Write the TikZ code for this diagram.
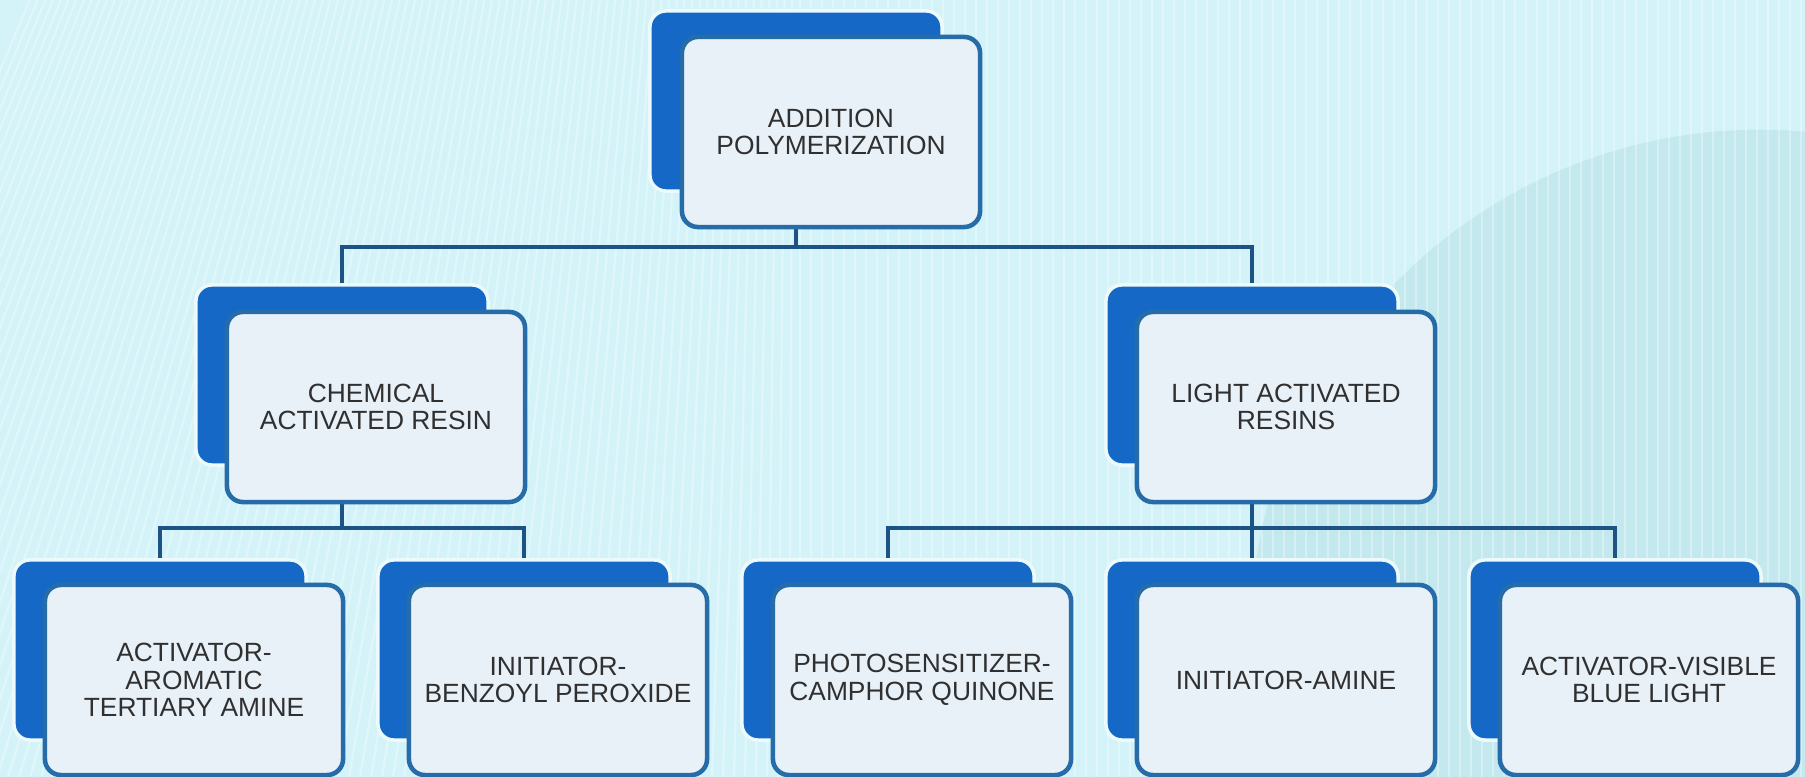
\documentclass[tikz,border=0pt]{standalone}
\usepackage{fontspec}
\setmainfont{Liberation Sans}
\definecolor{bgcyan}{RGB}{212,243,248}
\definecolor{bgdeep}{RGB}{176,221,229}
\definecolor{backblue}{RGB}{22,104,198}
\definecolor{cardfill}{RGB}{232,240,248}
\definecolor{cardline}{RGB}{38,108,168}
\definecolor{linkblue}{RGB}{28,82,132}
\definecolor{inkgray}{RGB}{48,48,48}

\begin{document}
\begin{tikzpicture}[x=0.01cm,y=-0.01cm]
    \tikzstyle{back}=[rectangle, rounded corners=0.16cm, fill=backblue, draw=white!55!bgcyan, line width=1pt, minimum width=2.92cm, minimum height=1.8cm, inner sep=0pt]
    \tikzstyle{card}=[rectangle, rounded corners=0.16cm, fill=cardfill, draw=cardline, line width=1.3pt, minimum width=2.98cm, minimum height=1.9cm, align=center, text=inkgray, font=\fontsize{7.5}{7.8}\selectfont, inner sep=0pt]
    \tikzstyle{link}=[draw=linkblue, line width=1.2pt]

    \useasboundingbox (0,0) rectangle (1805,777);

    % background
    \fill[bgcyan] (0,0) rectangle (1805,777);
    \begin{scope}
      \clip (0,0) rectangle (1805,777);
      \fill[bgdeep, opacity=0.45] (1760,640) circle (5.1cm);
      \foreach \i [evaluate=\i as \s using {max(0,0.3*(800-\i))}] in {-300,-289,...,1805}
        \draw[white, opacity=0.3, line width=0.6pt] (\i+\s,0) -- (\i,777);
    \end{scope}

    % back cards
    \node[back] (addB) at (796,101) {};
    \node[back] (chemB) at (342,375) {};
    \node[back] (lightB) at (1252,375) {};
    \node[back] (actB) at (160,650) {};
    \node[back] (iniB) at (524,650) {};
    \node[back] (phoB) at (888,650) {};
    \node[back] (amiB) at (1252,650) {};
    \node[back] (visB) at (1615,650) {};

    % connectors
    \coordinate (j0) at (796,247);
    \coordinate (j1) at (342,528);
    \coordinate (j2) at (1252,528);

    \draw[link] (addB.south) -- (j0) -| (chemB.north);
    \draw[link] (j0) -| (lightB.north);
    \draw[link] (chemB.south) -- (j1) -| (actB.north);
    \draw[link] (j1) -| (iniB.north);
    \draw[link] (lightB.south) -- (j2) -| (phoB.north);
    \draw[link] (j2) -- (amiB.north);
    \draw[link] (j2) -| (visB.north);

    % front cards
    \node[card] (add) at (831,132) {ADDITION\\POLYMERIZATION};
    \node[card] (chem) at (376,407) {CHEMICAL\\ACTIVATED RESIN};
    \node[card] (light) at (1286,407) {LIGHT ACTIVATED\\RESINS};
    \node[card] (act) at (194,680) {ACTIVATOR-\\AROMATIC\\TERTIARY AMINE};
    \node[card] (ini) at (558,680) {INITIATOR-\\BENZOYL PEROXIDE};
    \node[card] (pho) at (922,680) {PHOTOSENSITIZER-\\CAMPHOR QUINONE};
    \node[card] (ami) at (1286,680) {INITIATOR-AMINE};
    \node[card] (vis) at (1649,680) {ACTIVATOR-VISIBLE\\BLUE LIGHT};
\end{tikzpicture}
\end{document}
